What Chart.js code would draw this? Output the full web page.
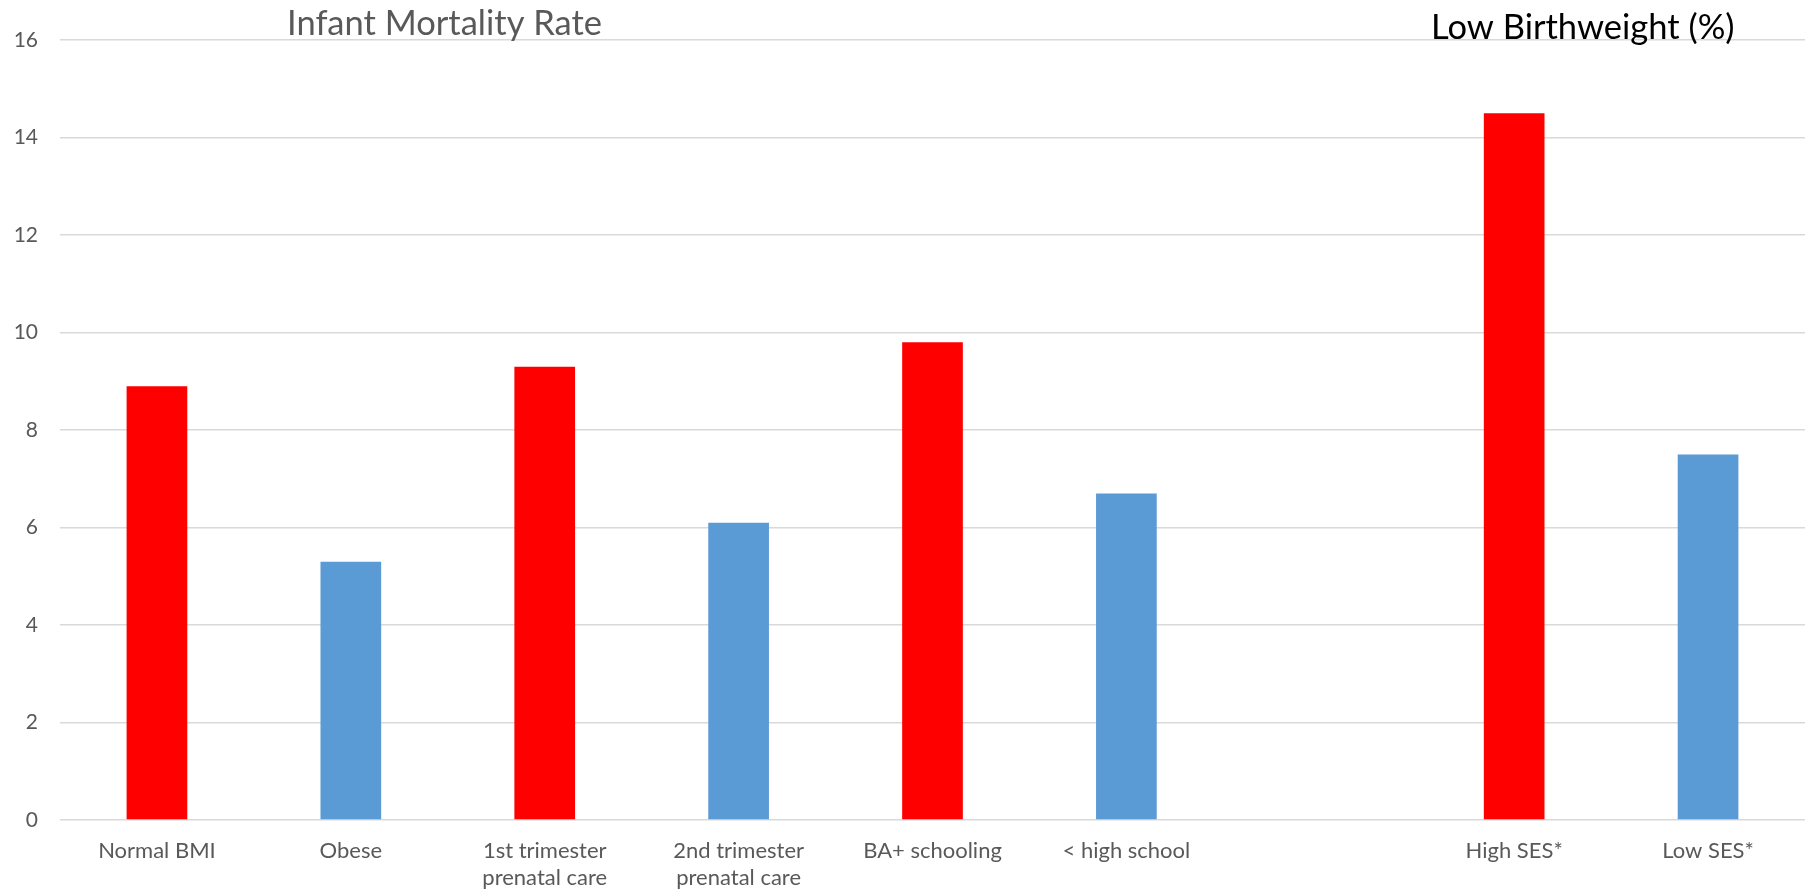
<!DOCTYPE html>
<html>
<head>
<meta charset="utf-8">
<script src="https://cdn.jsdelivr.net/npm/chart.js@4/dist/chart.umd.min.js"></script>
<style>
  html, body { margin: 0; padding: 0; background: #ffffff; }
  #wrap { position: relative; width: 1812px; height: 893px; }
  canvas { display: block; }
</style>
</head>
<body>
<div id="wrap"><canvas id="c" width="1812" height="893"></canvas></div>
<script>
// Categories (one empty slot separates the two groups)
const categories = [
  'Normal BMI',
  'Obese',
  ['1st trimester', 'prenatal care'],
  ['2nd trimester', 'prenatal care'],
  'BA+ schooling',
  '< high school',
  '',
  'High SES*',
  'Low SES*'
];
const values = [8.9, 5.3, 9.3, 6.1, 9.8, 6.7, null, 14.5, 7.5];
const barColors = ['#FF0000', '#5B9BD5', '#FF0000', '#5B9BD5', '#FF0000', '#5B9BD5', '#5B9BD5', '#FF0000', '#5B9BD5'];
const yTicks = [0, 2, 4, 6, 8, 10, 12, 14, 16];
const leftTitle = 'Infant Mortality Rate';
const rightTitle = 'Low Birthweight (%)';

const FONT = 'Lato, "Open Sans", sans-serif';

// Two free-floating captions above the plot
const captions = {
  id: 'captions',
  afterDraw(chart) {
    const ctx = chart.ctx;
    ctx.save();
    ctx.textBaseline = 'alphabetic';
    ctx.textAlign = 'left';
    ctx.font = '34.5px ' + FONT;
    ctx.fillStyle = '#595959';
    ctx.fillText(leftTitle, 287, 35);
    ctx.fillStyle = '#000000';
    ctx.fillText(rightTitle, 1431, 39);
    ctx.restore();
  }
};

new Chart(document.getElementById('c'), {
  type: 'bar',
  data: {
    labels: categories,
    datasets: [{
      data: values,
      backgroundColor: barColors,
      borderWidth: 0,
      categoryPercentage: 1,
      barPercentage: 0.313
    }]
  },
  options: {
    responsive: false,
    animation: false,
    devicePixelRatio: 1,
    layout: { padding: { top: 40, right: 7, left: 0, bottom: 0 } },
    plugins: {
      legend: { display: false },
      tooltip: { enabled: false }
    },
    scales: {
      x: {
        grid: { display: false, drawTicks: false },
        border: { display: false },
        ticks: {
          color: '#595959',
          font: { family: FONT, size: 22, lineHeight: 1.2 },
          padding: 18,
          maxRotation: 0,
          autoSkip: false
        },
        afterFit(axis) { axis.height = 73; }
      },
      y: {
        min: 0,
        max: 16,
        afterBuildTicks(axis) { axis.ticks = yTicks.map(v => ({ value: v })); },
        grid: { color: '#d9d9d9', lineWidth: 1.5, drawTicks: false },
        border: { display: false },
        ticks: {
          color: '#595959',
          font: { family: FONT, size: 21 },
          padding: 22
        },
        afterFit(axis) { axis.width = 60; }
      }
    }
  },
  plugins: [captions]
});
</script>
</body>
</html>
